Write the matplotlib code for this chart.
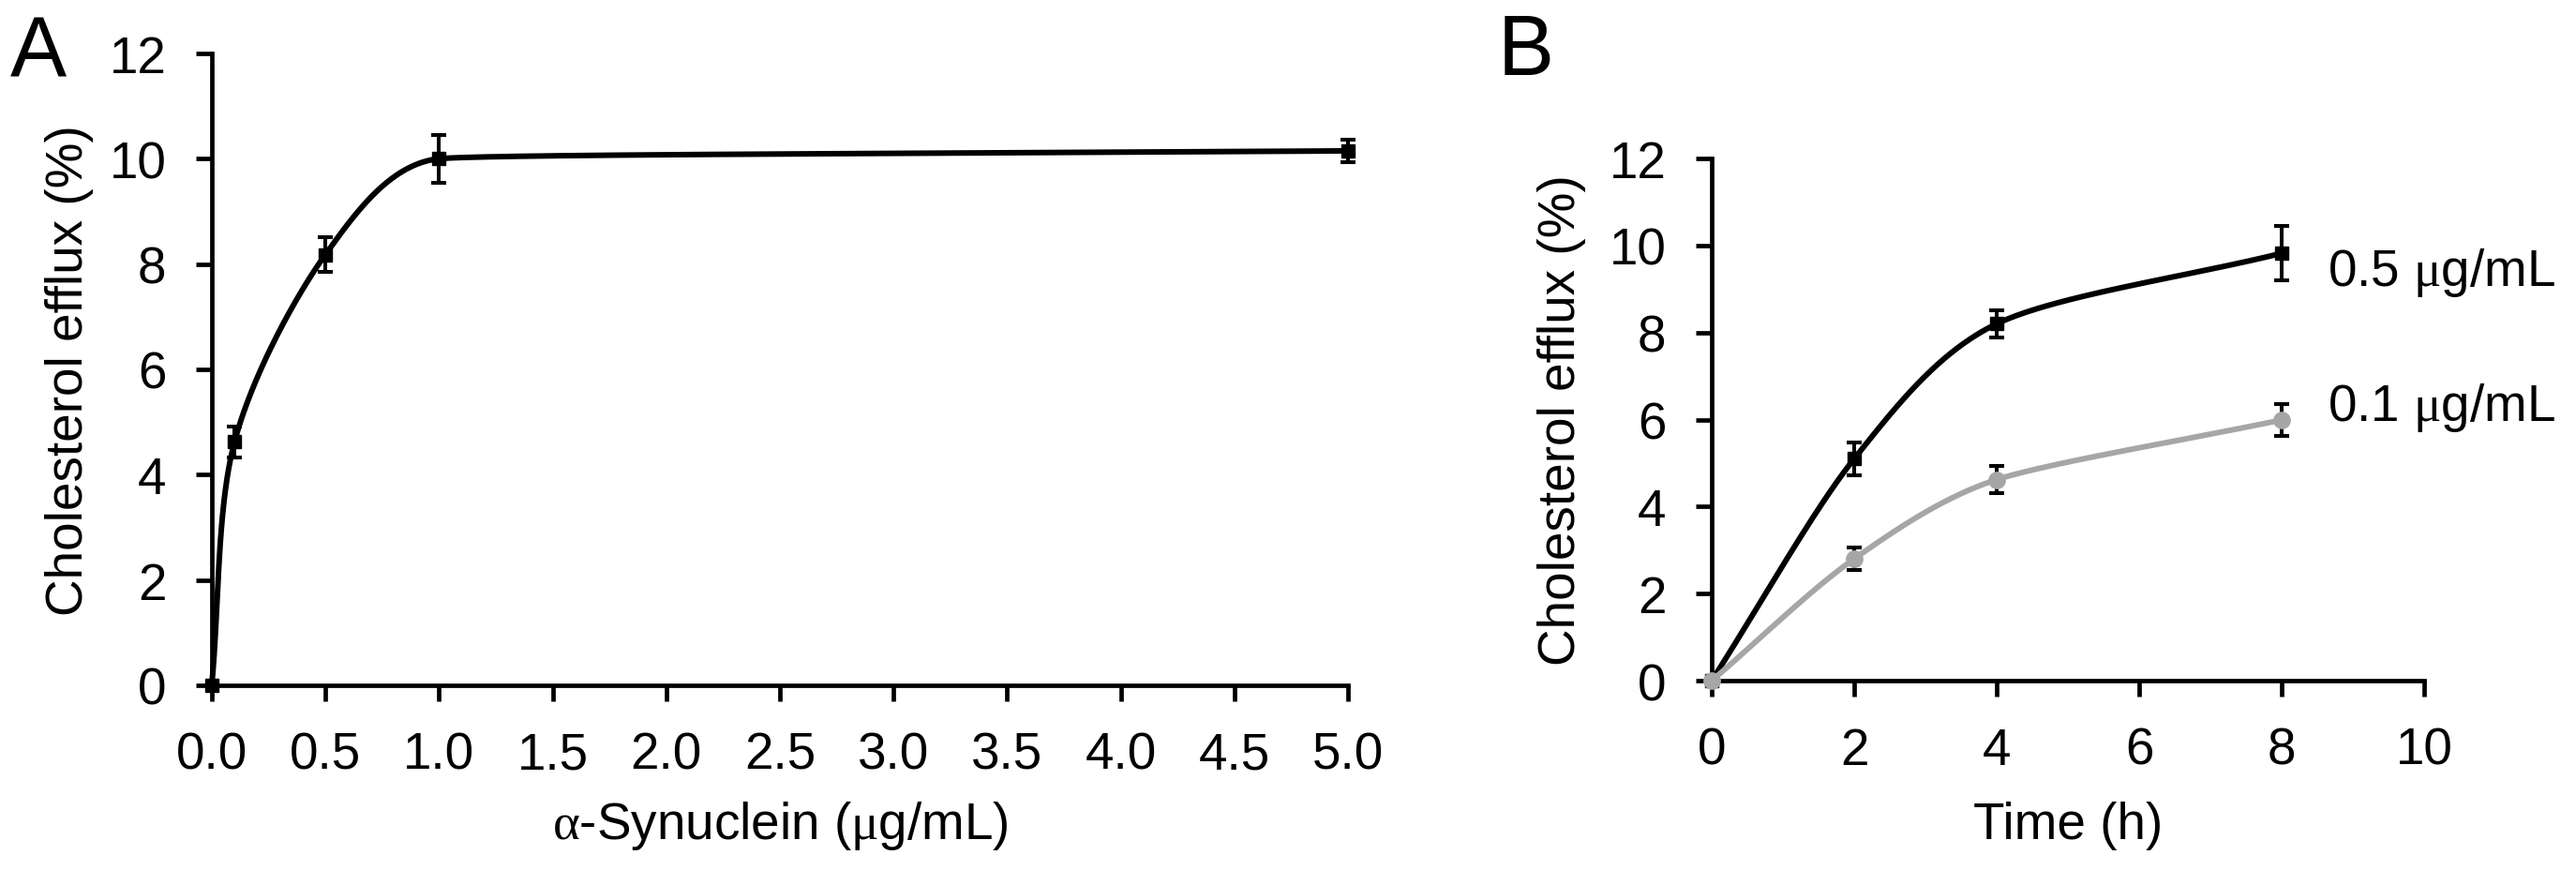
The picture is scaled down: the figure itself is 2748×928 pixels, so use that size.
import numpy as np
import matplotlib.pyplot as plt

plt.rcParams['font.family'] = ['Liberation Sans', 'DejaVu Sans']
plt.rcParams['mathtext.fontset'] = 'custom'
plt.rcParams['mathtext.rm'] = 'Liberation Serif'

# panel A: efflux vs alpha-synuclein concentration
conc = [0, 0.1, 0.5, 1.0, 5.0]
efflux_conc = [0, 4.62, 8.18, 10.0, 10.15]
err_conc = [0, 0.3, 0.33, 0.45, 0.22]

# panel B: efflux vs time, two concentrations
time_h = [0, 2, 4, 8]
efflux_05 = [0, 5.1, 8.2, 9.82]
err_05 = [0, 0.38, 0.31, 0.62]
efflux_01 = [0, 2.8, 4.62, 5.99]
err_01 = [0, 0.25, 0.32, 0.36]

a_xticks = [0, 0.5, 1.0, 1.5, 2.0, 2.5, 3.0, 3.5, 4.0, 4.5, 5.0]
b_xticks = [0, 2, 4, 6, 8, 10]
yticks = [0, 2, 4, 6, 8, 10, 12]

FS = 39.5
LW_AX = 3.4
W, H = 2748, 929
rectA = [0.0822, 0.2121, 0.4411, 0.7255]
rectB = [0.6645, 0.2174, 0.2765, 0.5996]


# smoothed line like the spreadsheet one: bezier through the points,
# tangents worked out in pixel space, handle length limited by the shorter neighbour segment
def smooth(x, y, kx, ky, n=100):
    P = np.column_stack([np.asarray(x, float) * kx, np.asarray(y, float) * ky])
    m = len(P)
    L = np.linalg.norm(np.diff(P, axis=0), axis=1)
    D = []
    for i in range(m):
        v = P[min(i + 1, m - 1)] - P[max(i - 1, 0)]
        D.append(v / np.linalg.norm(v))
    t = np.linspace(0, 1, n)[:, None]
    out = []
    for i in range(m - 1):
        l1 = min(L[max(i - 1, 0)], L[i]) / 3
        l2 = min(L[i], L[min(i + 1, m - 2)]) / 3
        p0, p3 = P[i], P[i + 1]
        c1 = p0 + D[i] * l1
        c2 = p3 - D[i + 1] * l2
        b = (1 - t) ** 3 * p0 + 3 * (1 - t) ** 2 * t * c1 + 3 * (1 - t) * t ** 2 * c2 + t ** 3 * p3
        out.append(b)
    out = np.vstack(out)
    return out[:, 0] / kx, out[:, 1] / ky


def style_axes(ax):
    for s in ['top', 'right']:
        ax.spines[s].set_visible(False)
    for s in ['left', 'bottom']:
        ax.spines[s].set_linewidth(LW_AX)
    ax.tick_params(direction='out', length=12, width=LW_AX, labelsize=FS, pad=23)
    ax.set_ylim(0, 12)
    ax.set_yticks(yticks)


fig = plt.figure(figsize=(W / 100, H / 100), dpi=100)

# ---- A ----
axA = fig.add_axes(rectA)
style_axes(axA)
kx, ky = rectA[2] * W / 5, rectA[3] * H / 12
sx, sy = smooth(conc, efflux_conc, kx, ky)
axA.plot(sx, sy, color='black', lw=4.3, clip_on=False)
axA.errorbar(conc, efflux_conc, yerr=err_conc, fmt='s', color='black', ms=9.5,
             elinewidth=2.9, capsize=5.8, capthick=2.9, clip_on=False, zorder=3)
axA.set_xlim(0, 5)
axA.set_xticks(a_xticks)
axA.set_xticklabels([f'{v:.1f}' for v in a_xticks])
axA.set_ylabel('Cholesterol efflux (%)', fontsize=FS, labelpad=12)
axA.set_xlabel(r'$\mathrm{\alpha}$-Synuclein ($\mathrm{\mu}$g/mL)', fontsize=FS, labelpad=15)

# ---- B ----
axB = fig.add_axes(rectB)
style_axes(axB)
kx, ky = rectB[2] * W / 10, rectB[3] * H / 12
sx, sy = smooth(time_h, efflux_05, kx, ky)
axB.plot(sx, sy, color='black', lw=4.3, clip_on=False)
axB.errorbar(time_h, efflux_05, yerr=err_05, fmt='s', color='black', ms=9.5,
             elinewidth=2.9, capsize=5.8, capthick=2.9, clip_on=False, zorder=3)
sx, sy = smooth(time_h, efflux_01, kx, ky)
axB.plot(sx, sy, color='#a6a6a6', lw=4.3, clip_on=False, zorder=4)
axB.errorbar(time_h, efflux_01, yerr=err_01, fmt='none', ecolor='black',
             elinewidth=2.9, capsize=5.8, capthick=2.9, clip_on=False, zorder=3)
axB.plot(time_h, efflux_01, 'o', color='#a6a6a6', ms=12.5, clip_on=False, zorder=5)
axB.set_xlim(0, 10)
axB.set_xticks(b_xticks)
axB.set_ylabel('Cholesterol efflux (%)', fontsize=FS, labelpad=18)
axB.set_xlabel('Time (h)', fontsize=FS, labelpad=20)

axB.text(8.64, 9.1, r'0.5 $\mathrm{\mu}$g/mL', fontsize=FS, va='baseline', ha='left',
         clip_on=False)
axB.text(8.64, 6.0, r'0.1 $\mathrm{\mu}$g/mL', fontsize=FS, va='baseline', ha='left',
         clip_on=False)

# panel letters
fig.text(11 / W, 1 - 81 / H, 'A', fontsize=65, va='baseline', ha='left')
fig.text(1598 / W, 1 - 80 / H, 'B', fontsize=65, va='baseline', ha='left')

fig.savefig('out.png', dpi=100)
